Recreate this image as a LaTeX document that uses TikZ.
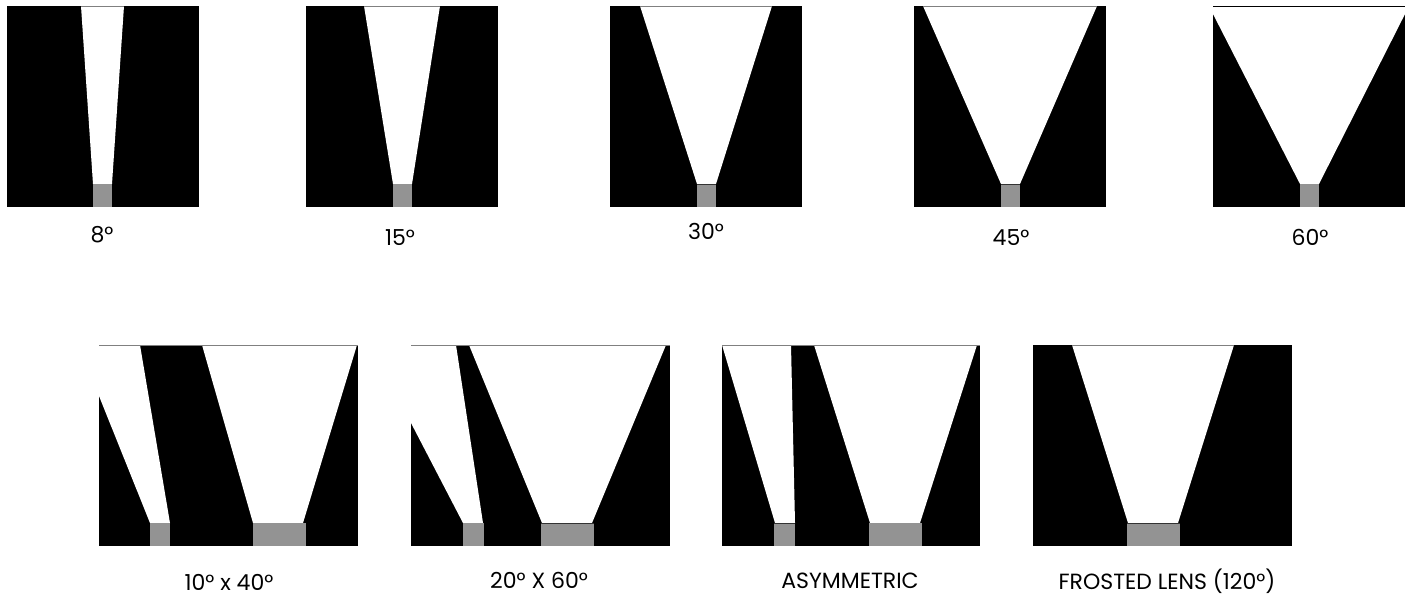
\documentclass[tikz,border=0pt]{standalone}
\usepackage{fontspec}
\setmainfont{Poppins}
\definecolor{lensgray}{HTML}{939393}
\tikzset{
  panelbox/.style={fill=black},
  beam/.style={fill=white},
  lens/.style={fill=lensgray},
  lenstop/.style={draw=black!80, line width=0.6pt},
  topedge/.style={draw=gray, line width=0.8pt},
  lbl/.style={font=\fontsize{22}{26}\selectfont, inner sep=0pt, anchor=center, text=black}
}
\begin{document}
\begin{tikzpicture}[x=1pt,y=-1pt]
\useasboundingbox[fill=white] (0,0) rectangle (1418,596);

% ---- 8 deg
\fill[panelbox] (7,6) rectangle (199,207);
\fill[beam] (81,6) -- (124,6) -- (112,184) -- (93,184) -- cycle;
\fill[lens] (93,184) rectangle (112,207);
\draw[topedge] (81,6.4) -- (124,6.4);
\node[lbl] (l8) at (102,235) {8°};

% ---- 15 deg
\fill[panelbox] (306,6) rectangle (498,207);
\fill[beam] (364,6) -- (440,6) -- (412,184) -- (393,184) -- cycle;
\fill[lens] (393,184) rectangle (412,207);
\draw[topedge] (364,6.4) -- (440,6.4);
\node[lbl] (l15) at (400,238) {15°};

% ---- 30 deg
\fill[panelbox] (610,6) rectangle (802,207);
\fill[beam] (640,6) -- (772,6) -- (716,184) -- (697,184) -- cycle;
\fill[lens] (697,184) rectangle (716,207);
\draw[lenstop] (697,184.3) -- (716,184.3);
\draw[topedge] (640,6.4) -- (772,6.4);
\node[lbl] (l30) at (706,231) {30°};

% ---- 45 deg
\fill[panelbox] (914,6) rectangle (1106,207);
\fill[beam] (923,6) -- (1097,6) -- (1020,184) -- (1001,184) -- cycle;
\fill[lens] (1001,184) rectangle (1020,207);
\draw[lenstop] (1001,184.3) -- (1020,184.3);
\draw[topedge] (923,6.4) -- (1097,6.4);
\node[lbl] (l45) at (1011,238) {45°};

% ---- 60 deg
\fill[panelbox] (1213,6) rectangle (1405,207);
\begin{scope}
  \clip (1213,6) rectangle (1405,207);
  \fill[beam] (1205.8,0) -- (1412.1,0) -- (1319,184) -- (1300,184) -- cycle;
\end{scope}
\fill[lens] (1300,184) rectangle (1319,207);
\draw[black, line width=1.3pt] (1213,6.6) -- (1405,6.6);
\node[lbl] (l60) at (1310,237) {60°};

% ---- 10 x 40
\fill[panelbox] (99,345) rectangle (358,546);
\fill[beam] (99,345) -- (140,345) -- (170,523) -- (150,523) -- (99,396) -- cycle;
\fill[beam] (202,345) -- (357,345) -- (303,523) -- (253,523) -- cycle;
\fill[lens] (150,523) rectangle (170,546);
\fill[lens] (253,523) rectangle (306,546);
\draw[topedge] (99,345.4) -- (358,345.4);
\node[lbl] (l1040) at (229,582.5) {10° x 40°};

% ---- 20 x 60
\fill[panelbox] (411,345) rectangle (670,546);
\fill[beam] (411,345) -- (456,345) -- (483,523) -- (463,523) -- (411,423) -- cycle;
\fill[beam] (469,345) -- (666,345) -- (592,523) -- (542,523) -- cycle;
\fill[lens] (463,523) rectangle (484,546);
\fill[lens] (541,523) rectangle (594,546);
\draw[lenstop] (541,523.3) -- (594,523.3);
\draw[topedge] (411,345.4) -- (670,345.4);
\node[lbl] (l2060) at (539,580) {20° X 60°};

% ---- asymmetric
\fill[panelbox] (722,345) rectangle (980,546);
\fill[beam] (722,345) -- (791,345) -- (795,523) -- (775,523) -- cycle;
\fill[beam] (814,345) -- (977,345) -- (920,523) -- (870,523) -- cycle;
\fill[lens] (774,523) rectangle (795,546);
\fill[lens] (869,523) rectangle (922,546);
\draw[lenstop] (774,523.3) -- (795,523.3);
\draw[topedge] (722,345.4) -- (980,345.4);
\node[lbl] (lasym) at (850,581) {ASYMMETRIC};

% ---- frosted lens
\fill[panelbox] (1033,345) rectangle (1292,546);
\fill[beam] (1072,345) -- (1234,345) -- (1178,523) -- (1128,523) -- cycle;
\fill[lens] (1127,523) rectangle (1180,546);
\draw[lenstop] (1127,523.3) -- (1180,523.3);
\draw[topedge] (1072,345.4) -- (1234,345.4);
\node[lbl] (lfrost) at (1167,581) {FROSTED LENS (120°)};
\end{tikzpicture}
\end{document}
